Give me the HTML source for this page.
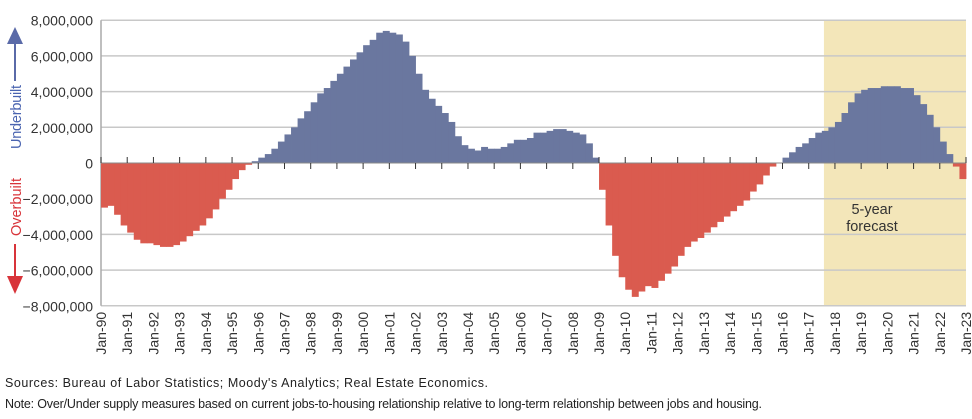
<!DOCTYPE html>
<html><head><meta charset="utf-8"><style>
body{margin:0;background:#fff;font-family:"Liberation Sans",sans-serif;}
svg text{font-family:"Liberation Sans",sans-serif;}
</style></head><body>
<svg width="972" height="414" xmlns="http://www.w3.org/2000/svg">
<g id="shade"></g><g id="grid"></g><g id="bars"></g><g id="ticks"></g><g id="ylabels"></g><g id="xlabels"></g>
<g>
<polygon points="15,27 7,44 23,44" fill="#5a6aa8"/><rect x="14" y="43" width="2" height="38" fill="#5a6aa8"/>
<text transform="translate(21,149) rotate(-90)" font-size="14.5" textLength="64" fill="#4a64b0">Underbuilt</text>
</g>
<g>
<text transform="translate(21,236) rotate(-90)" font-size="14.5" textLength="58" fill="#d8343a">Overbuilt</text>
<rect x="14" y="244" width="2" height="34" fill="#d8343a"/><polygon points="15,294 7,276 23,276" fill="#d8343a"/>
</g>
<text x="872" y="214" font-size="14.5" fill="#333" text-anchor="middle">5-year</text>
<text x="872" y="231" font-size="14.5" fill="#333" text-anchor="middle">forecast</text>
<text x="5" y="387" font-size="12.5" textLength="483" fill="#222">Sources: Bureau of Labor Statistics; Moody's Analytics; Real Estate Economics.</text>
<text x="5" y="408" font-size="12.5" textLength="757" fill="#222">Note: Over/Under supply measures based on current jobs-to-housing relationship relative to long-term relationship between jobs and housing.</text>
</svg>
<script>
const years=[1990,1991,1992,1993,1994,1995,1996,1997,1998,1999,2000,2001,2002,2003,2004,2005,2006,2007,2008,2009,2010,2011,2012,2013,2014,2015,2016,2017,2018,2019,2020,2021,2022,2023];
const yTicks=[8,6,4,2,0,-2,-4,-6,-8];
const yTickLabels=["8,000,000","6,000,000","4,000,000","2,000,000","0","\u22122,000,000","\u22124,000,000","\u22126,000,000","\u22128,000,000"];
// quarterly surplus (millions), 1990Q1..2022Q4
const values=[
-2.5,-2.4,-2.9,-3.5, -3.9,-4.3,-4.5,-4.5, -4.6,-4.7,-4.7,-4.6, -4.4,-4.1,-3.8,-3.5,
-3.1,-2.6,-2.0,-1.5, -0.9,-0.4,-0.1,0.1, 0.3,0.5,0.8,1.2, 1.6,2.0,2.5,2.9,
3.4,3.9,4.2,4.6, 5.0,5.4,5.8,6.2, 6.6,6.9,7.3,7.4, 7.3,7.2,6.8,6.0,
5.0,4.1,3.6,3.2, 2.8,2.3,1.5,1.0, 0.8,0.7,0.9,0.8, 0.8,0.9,1.1,1.3,
1.3,1.4,1.7,1.7, 1.8,1.9,1.9,1.8, 1.7,1.6,1.1,0.3, -1.5,-3.5,-5.2,-6.4,
-7.1,-7.5,-7.2,-6.9, -7.0,-6.6,-6.2,-5.8, -5.2,-4.7,-4.4,-4.2, -3.9,-3.6,-3.3,-3.0,
-2.7,-2.4,-2.1,-1.6, -1.2,-0.7,-0.2,0.0, 0.3,0.6,0.9,1.1, 1.4,1.7,1.8,2.0,
2.3,2.8,3.4,3.9, 4.1,4.2,4.2,4.3, 4.3,4.3,4.2,4.2, 3.8,3.3,2.7,2.0,
1.2,0.5,-0.2,-0.9];
const forecastStart=2017.58, forecastEnd=2023;
const NS="http://www.w3.org/2000/svg";
const X0=101,X1=966,Y0=163,PX=17.85;
const x=t=>X0+(t-1990)/(2023-1990)*(X1-X0);
const y=v=>Y0-v*PX;
function mk(tag,at,parent){const e=document.createElementNS(NS,tag);for(const k in at)e.setAttribute(k,at[k]);document.getElementById(parent).appendChild(e);return e;}
let s=mk('rect',{x:x(forecastStart),y:y(8),width:x(forecastEnd)-x(forecastStart),height:y(-8)-y(8),fill:'#f3e6b9'},'shade');


yTicks.forEach((v,i)=>{
 if(v!==0){let g=mk('line',{x1:X0,x2:X1,y1:y(v),y2:y(v),stroke:'#c8c8c8','stroke-width':1.5},'grid');
 
 }
 let t=mk('text',{x:93,y:y(v)+5.5,'font-size':14,'text-anchor':'end',fill:'#333'},'ylabels');t.textContent=yTickLabels[i];
 
 
});
let ax=mk('line',{x1:X0,x2:X0,y1:y(8),y2:y(-8),stroke:'#aaa','stroke-width':1.5},'grid');


values.forEach((v,i)=>{
 const t0=1990+i/4,t1=t0+0.25;
 let b=mk('rect',{x:x(t0),width:x(t1)-x(t0)+0.4,y:Math.min(y(v),Y0),height:Math.abs(y(v)-Y0),fill:v>=0?'#6a779f':'#da5b4f'},'bars');
 
 
});
let z=mk('line',{x1:X0,x2:X1,y1:Y0,y2:Y0,stroke:'#888','stroke-width':1},'ticks');


years.forEach((yr,i)=>{
 const idx=Math.min((yr-1990)*4,values.length-1);const v=values[idx];
 const up=v<0||(yr===2023);
 let tk=mk('line',{x1:x(yr),x2:x(yr),y1:Y0,y2:up?Y0-6:Y0+6,stroke:'#333','stroke-width':1},'ticks');
 
 
 let t=mk('text',{transform:`translate(${x(yr)+5},${y(-8)+6}) rotate(-90)`,'font-size':14,'text-anchor':'end',fill:'#333'},'xlabels');
 t.textContent='Jan-'+String(yr).slice(2);
 
 
});
</script>
</body></html>
